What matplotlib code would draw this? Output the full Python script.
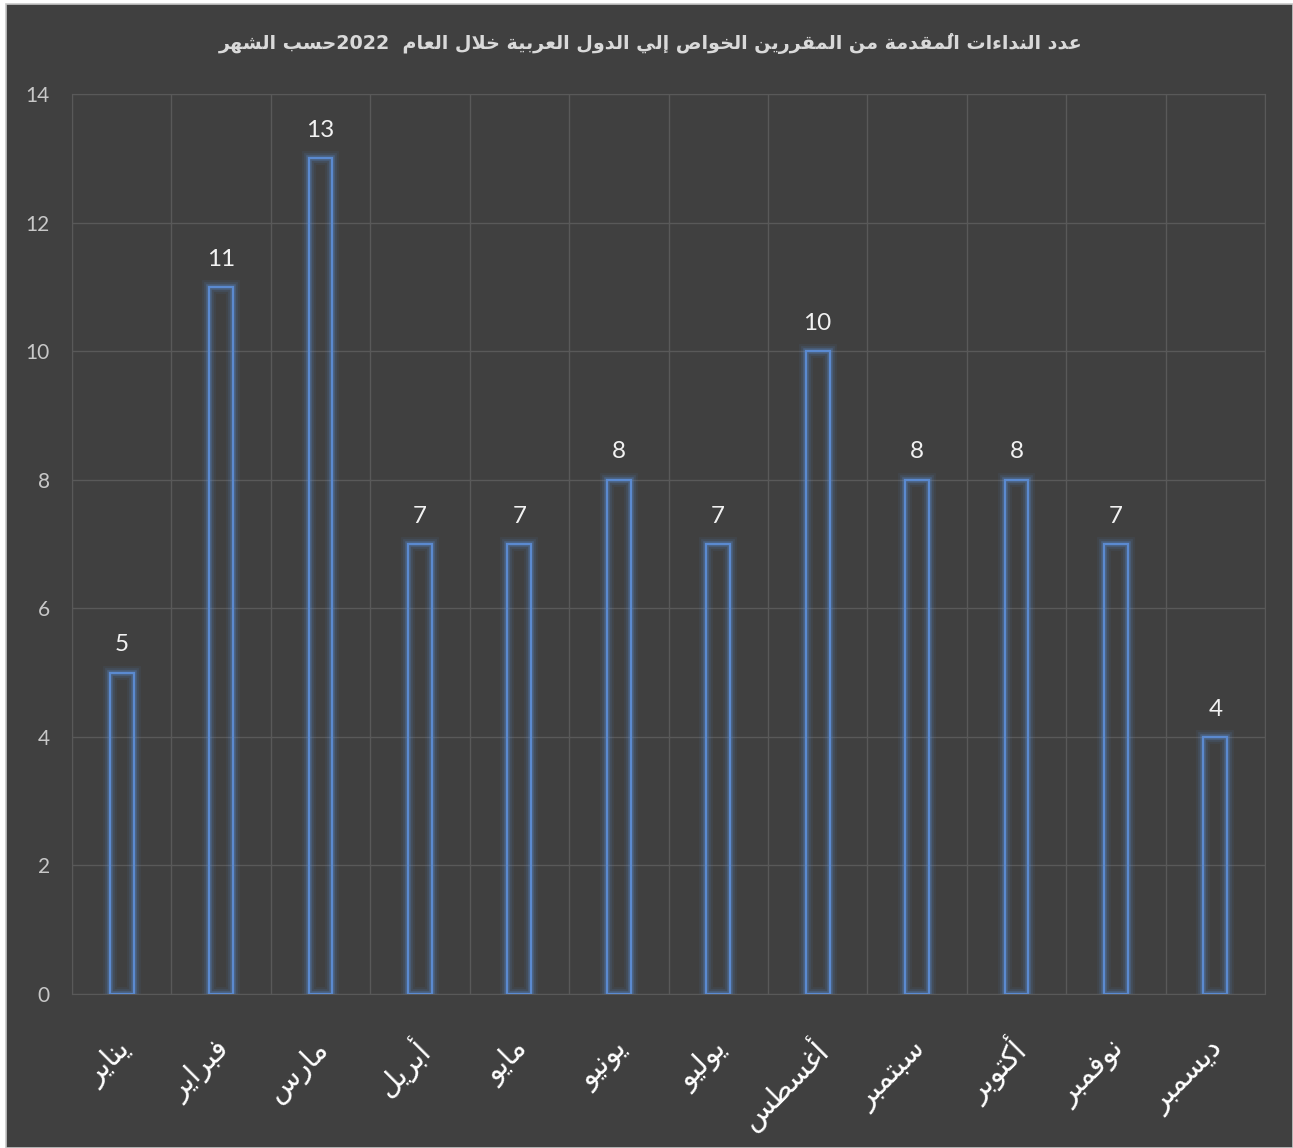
import matplotlib
matplotlib.use("Agg")
import matplotlib.pyplot as plt
import matplotlib.patheffects as pe
from matplotlib.patches import Rectangle
import numpy as np

# monthly counts
months = ["يناير", "فبراير", "مارس", "أبريل", "مايو", "يونيو",
          "يوليو", "أغسطس", "سبتمبر", "أكتوبر", "نوفمبر", "ديسمبر"]
counts = [5, 11, 13, 7, 7, 8, 7, 10, 8, 8, 7, 4]
yticks = [0, 2, 4, 6, 8, 10, 12, 14]
title = "عدد النداءات المُقدمة من المقررين الخواص إلي الدول العربية خلال العام  2022حسب الشهر"

# arabic letter -> (first presentation form, number of forms)
# forms order: isolated, final, initial, medial
ARABIC = {
    "\u0621": (0xFE80, 1), "\u0622": (0xFE81, 2), "\u0623": (0xFE83, 2),
    "\u0624": (0xFE85, 2), "\u0625": (0xFE87, 2), "\u0626": (0xFE89, 4),
    "\u0627": (0xFE8D, 2), "\u0628": (0xFE8F, 4), "\u0629": (0xFE93, 2),
    "\u062A": (0xFE95, 4), "\u062B": (0xFE99, 4), "\u062C": (0xFE9D, 4),
    "\u062D": (0xFEA1, 4), "\u062E": (0xFEA5, 4), "\u062F": (0xFEA9, 2),
    "\u0630": (0xFEAB, 2), "\u0631": (0xFEAD, 2), "\u0632": (0xFEAF, 2),
    "\u0633": (0xFEB1, 4), "\u0634": (0xFEB5, 4), "\u0635": (0xFEB9, 4),
    "\u0636": (0xFEBD, 4), "\u0637": (0xFEC1, 4), "\u0638": (0xFEC5, 4),
    "\u0639": (0xFEC9, 4), "\u063A": (0xFECD, 4), "\u0641": (0xFED1, 4),
    "\u0642": (0xFED5, 4), "\u0643": (0xFED9, 4), "\u0644": (0xFEDD, 4),
    "\u0645": (0xFEE1, 4), "\u0646": (0xFEE5, 4), "\u0647": (0xFEE9, 4),
    "\u0648": (0xFEED, 2), "\u0649": (0xFEEF, 2), "\u064A": (0xFEF1, 4),
}
LAM_ALEF = {"\u0622": 0xFEF5, "\u0623": 0xFEF7, "\u0625": 0xFEF9, "\u0627": 0xFEFB}


def is_mark(c):
    return "\u064B" <= c <= "\u0652"


def rtl(text):
    # group base letters with their marks
    clusters = []
    for c in text:
        if is_mark(c) and clusters:
            clusters[-1][1] += c
        else:
            clusters.append([c, ""])

    def joins_next(k):
        return 0 <= k < len(clusters) and ARABIC.get(clusters[k][0], (0, 0))[1] == 4

    def is_letter(k):
        return 0 <= k < len(clusters) and ARABIC.get(clusters[k][0], (0, 0))[1] >= 2

    shaped = []
    k = 0
    while k < len(clusters):
        ch, marks = clusters[k]
        if ch not in ARABIC:
            shaped.append((ch, marks))
            k += 1
            continue
        start, n = ARABIC[ch]
        left = joins_next(k - 1)
        if ch == "\u0644" and k + 1 < len(clusters) and clusters[k + 1][0] in LAM_ALEF:
            g = chr(LAM_ALEF[clusters[k + 1][0]] + (1 if left else 0))
            shaped.append((g, marks + clusters[k + 1][1]))
            k += 2
            continue
        right = n == 4 and is_letter(k + 1)
        if n == 1:
            form = 0
        elif n == 2:
            form = 1 if left else 0
        else:
            form = {(False, False): 0, (True, False): 1,
                    (False, True): 2, (True, True): 3}[(left, right)]
        shaped.append((chr(start + form), marks))
        k += 1

    # reverse for display, keeping digit runs left-to-right
    tokens = []
    for g, marks in shaped:
        if g.isascii() and g.isalnum() and tokens and tokens[-1][0] == "ltr":
            tokens[-1][1] += g + marks
        elif g.isascii() and g.isalnum():
            tokens.append(["ltr", g + marks])
        else:
            tokens.append(["rtl", g + marks])
    return "".join(t[1] for t in reversed(tokens))


W, H = 1293, 1148
fig = plt.figure(figsize=(W / 100, H / 100), dpi=100)
fig.patch.set_facecolor("white")
fig.patches.append(Rectangle((6 / W, 0), 1 - 6 / W, 1 - 4 / H, transform=fig.transFigure,
                             facecolor="#404040", edgecolor="#c8c8c8", lw=1.2, zorder=-10))

ax = fig.add_axes([72 / W, 1 - 994 / H, (1265 - 72) / W, (994 - 94) / H])
ax.set_facecolor("#404040")
x = np.arange(len(months))

glow = "#5a8fd8"
effects = [pe.Stroke(linewidth=10, foreground=glow, alpha=0.07),
           pe.Stroke(linewidth=7, foreground=glow, alpha=0.13),
           pe.Stroke(linewidth=4, foreground=glow, alpha=0.28),
           pe.Normal()]
bars = ax.bar(x, counts, width=0.24, facecolor="none", edgecolor="#5b8ad0",
              linewidth=1.6, zorder=3)
for b in bars:
    b.set_path_effects(effects)

for xi, v in zip(x, counts):
    ax.annotate(str(v), xy=(xi, v), xytext=(0, 20), textcoords="offset points",
                ha="center", va="center", fontsize=17.5, color="#f2f2f2",
                family="Lato")

for xi, m in zip(x, months):
    ax.annotate(rtl(m), xy=(xi, 0), xycoords=("data", "axes fraction"),
                xytext=(3, -37), textcoords="offset points", rotation=45,
                rotation_mode="anchor", ha="right", va="center",
                fontsize=21, color="white", family="DejaVu Sans")

ax.set_xlim(-0.5, len(months) - 0.5)
ax.set_ylim(0, 14)
ax.set_yticks(yticks)
ax.set_xticks([])
ax.set_xticks(np.arange(-0.5, len(months), 1), minor=True)
ax.tick_params(axis="both", which="both", length=0)
ax.tick_params(axis="y", labelcolor="#c8c8c8", labelsize=15, pad=16)
for lab in ax.get_yticklabels():
    lab.set_family("Lato")
ax.grid(axis="y", which="major", color="#595959", lw=1)
ax.grid(axis="x", which="minor", color="#595959", lw=1)
ax.set_axisbelow(True)
for s in ax.spines.values():
    s.set_color("#595959")

fig.text(651 / W, 1 - 43 / H, rtl(title), ha="center", va="center",
         fontsize=13.8, fontweight="bold", color="#d9d9d9", family="DejaVu Sans")

fig.savefig("out.png", dpi=100, facecolor=fig.get_facecolor())
